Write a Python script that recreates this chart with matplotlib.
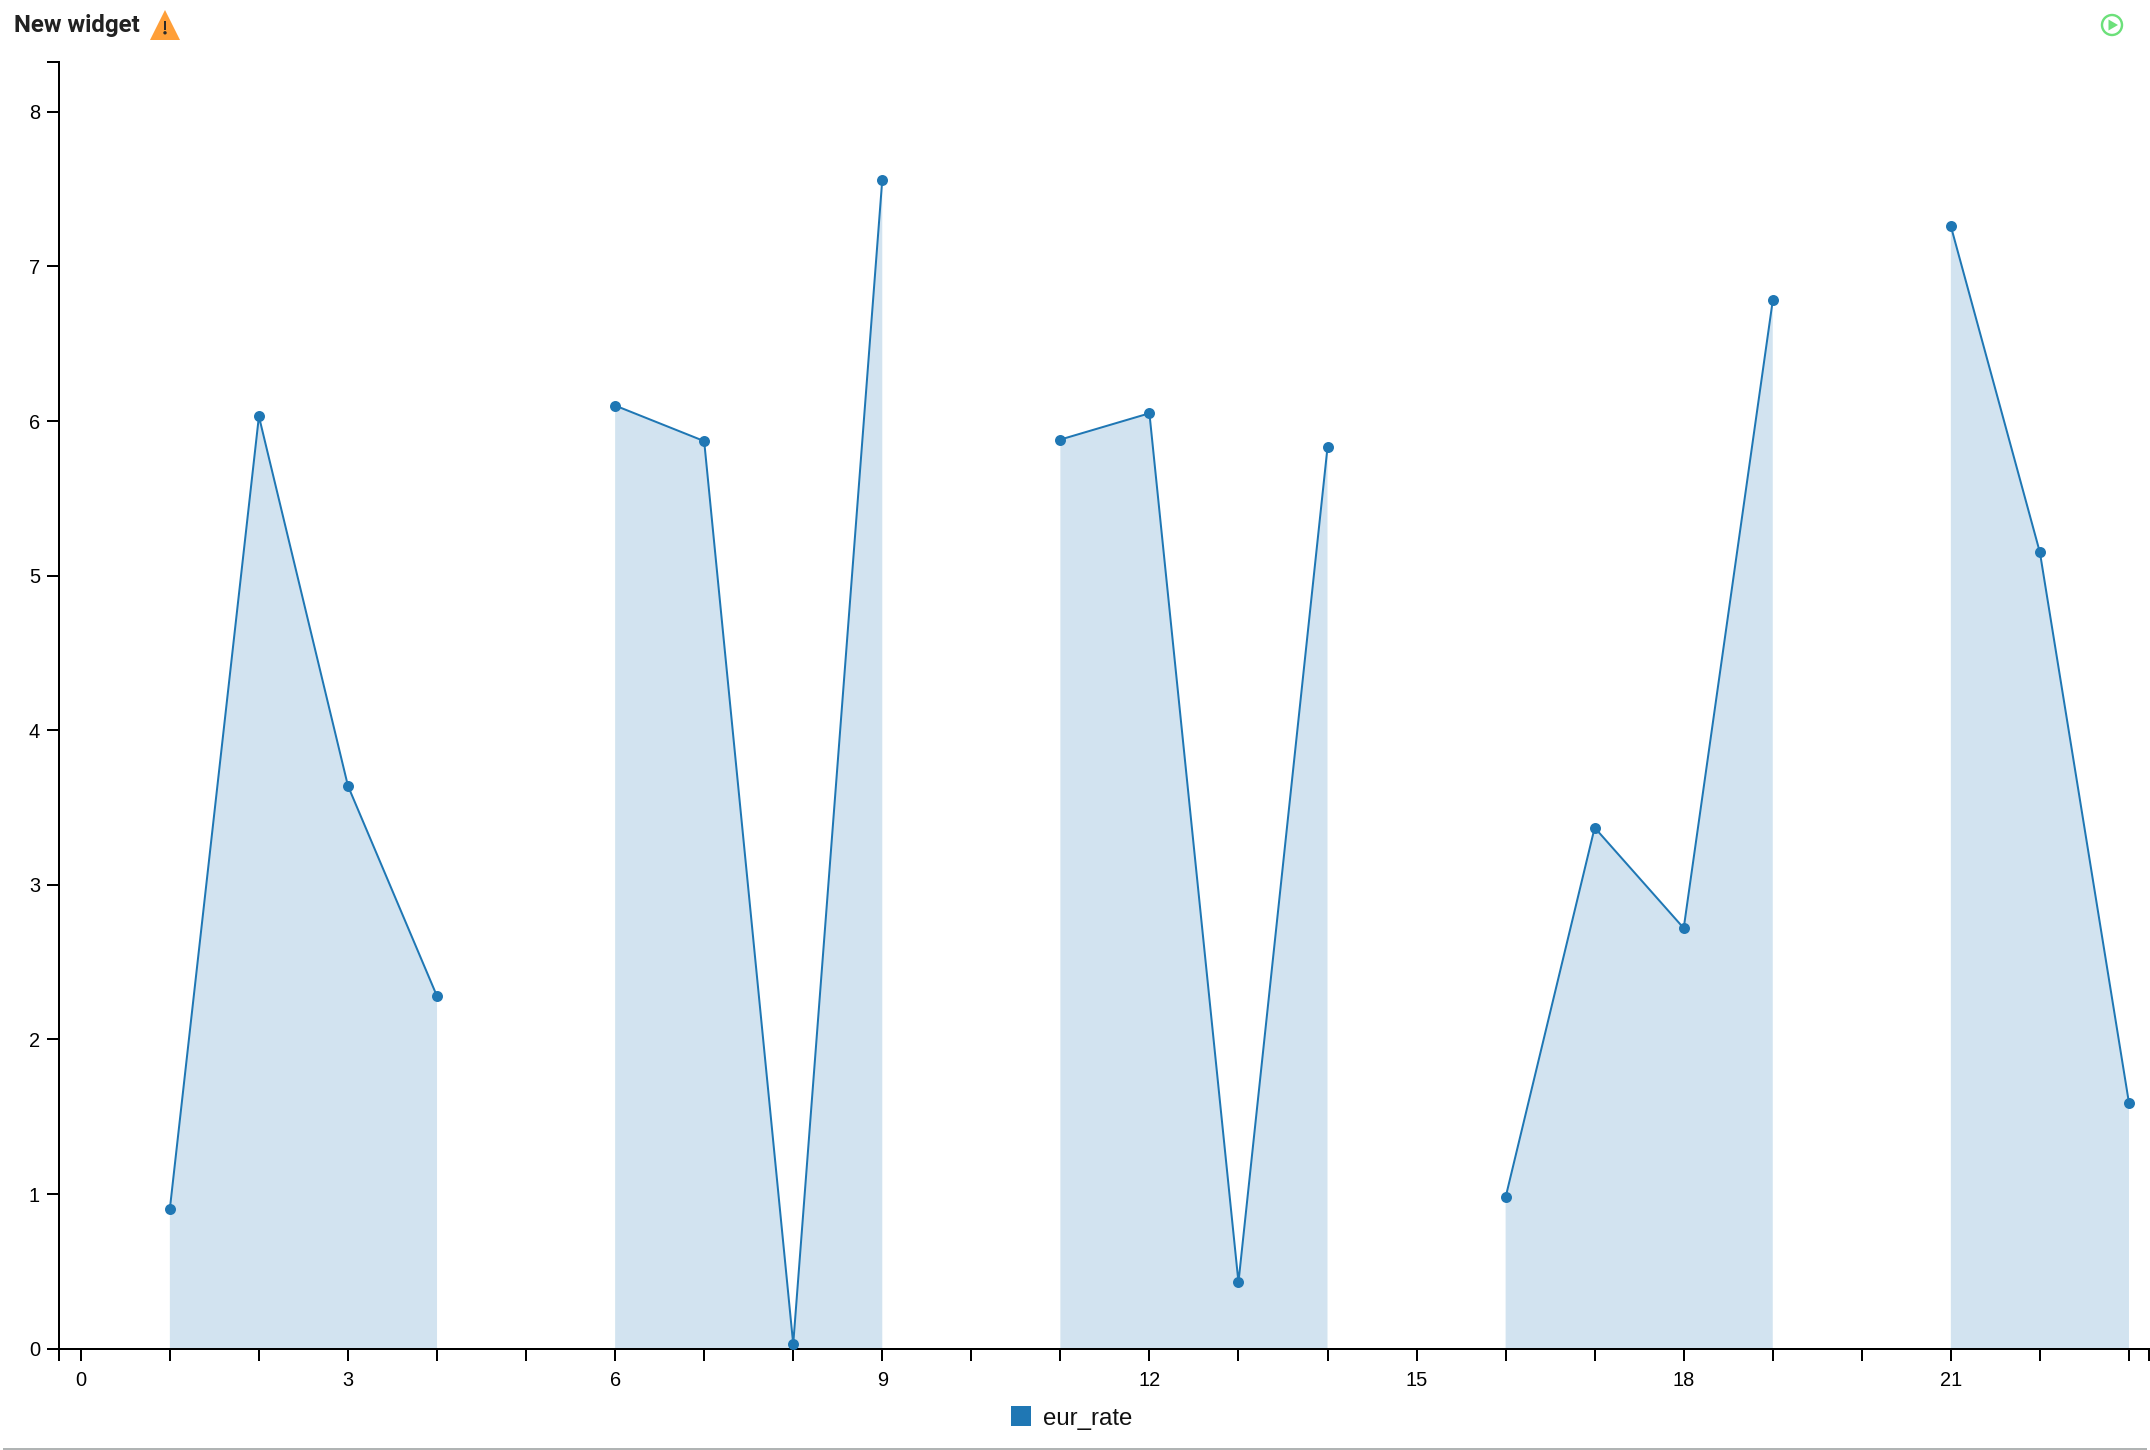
import matplotlib
matplotlib.use('Agg')
import matplotlib.pyplot as plt
import matplotlib.patches as mpatches
import numpy as np

# gaps (0, 5, 10, 15, 20) have no value
x_vals = np.arange(0, 24)
eur_rate = [np.nan, 0.905, 6.03, 3.64, 2.28,
            np.nan, 6.10, 5.87, 0.03, 7.56,
            np.nan, 5.88, 6.05, 0.43, 5.83,
            np.nan, 0.98, 3.37, 2.72, 6.78,
            np.nan, 7.26, 5.15, 1.59]
y_ticks = [0, 1, 2, 3, 4, 5, 6, 7, 8]
x_labelled = [0, 3, 6, 9, 12, 15, 18, 21]

BLUE = '#1f77b4'
W, H = 2150, 1450
PX = 72 / 100  # one pixel in points at dpi 100

fig = plt.figure(figsize=(W / 100, H / 100), dpi=100)
plt.rcParams['font.family'] = ['Liberation Sans', 'DejaVu Sans']

# axes placed from the pixel positions of the reference
left, right, top, bottom = 59, 2149, 62.3, 1348.7
ax = fig.add_axes([left / W, 1 - bottom / H, (right - left) / W, (bottom - top) / H])
ax.set_xlim(-0.245, 23.225)
ax.set_ylim(0, 8.32)
ax.patch.set_visible(False)

y = np.array(eur_rate)
ax.fill_between(x_vals, 0, y, color=BLUE, alpha=0.2, linewidth=0, zorder=1)
ax.plot(x_vals, y, color=BLUE, lw=2 * PX, marker='o', ms=11 * PX, mew=0,
        solid_joinstyle='miter', clip_on=False, zorder=3)

for sp in ['top', 'right']:
    ax.spines[sp].set_visible(False)
for sp in ['left', 'bottom']:
    ax.spines[sp].set_linewidth(2 * PX)
    ax.spines[sp].set_color('black')

# d3 style axes: a tick on every integer plus one at each end of the domain
ax.set_xticks(list(x_vals) + list(ax.get_xlim()))
ax.set_xticklabels([str(v) if v in x_labelled else '' for v in x_vals] + ['', ''])
ax.set_yticks(y_ticks + [ax.get_ylim()[1]])
ax.set_yticklabels([str(v) for v in y_ticks] + [''])
ax.tick_params(axis='both', length=12 * PX, width=2 * PX, color='black',
               labelsize=20 * PX, labelcolor='black')
ax.tick_params(axis='x', pad=10.5 * PX)
ax.tick_params(axis='y', pad=7 * PX)

# page furniture, drawn in pixel coordinates
over = fig.add_axes([0, 0, 1, 1], zorder=5)
over.set_xlim(0, W)
over.set_ylim(H, 0)
over.axis('off')

over.text(14, 25, 'New widget', family='Roboto', fontweight='bold', fontsize=24 * PX,
          color='#222222', va='center', ha='left')
over.add_patch(mpatches.Polygon([[150, 40], [180, 40], [165, 10]], closed=True,
                                fc='#ff9f38', ec='none'))
over.add_patch(mpatches.Rectangle((163.6, 21), 2.8, 8.5, fc='#2a2a2a', ec='none'))
over.add_patch(mpatches.Circle((165, 32.8), 1.7, fc='#2a2a2a', ec='none'))

over.add_patch(mpatches.Circle((2112, 25), 10, fc='none', ec='#6ce07a', lw=2.4 * PX))
over.add_patch(mpatches.Polygon([[2108.5, 19.5], [2108.5, 30.5], [2118, 25]], closed=True,
                                fc='#6ce07a', ec='none'))

# legend
over.add_patch(mpatches.Rectangle((1011, 1406), 20, 20, fc=BLUE, ec='none'))
over.text(1043, 1419, 'eur_rate', fontsize=24 * PX, color='#111111', va='center', ha='left')

# card border along the bottom
over.plot([3, 2147], [1449, 1449], color='#b0b4b4', lw=2 * PX, solid_capstyle='butt')

fig.savefig('out.png', dpi=100, facecolor='white')
